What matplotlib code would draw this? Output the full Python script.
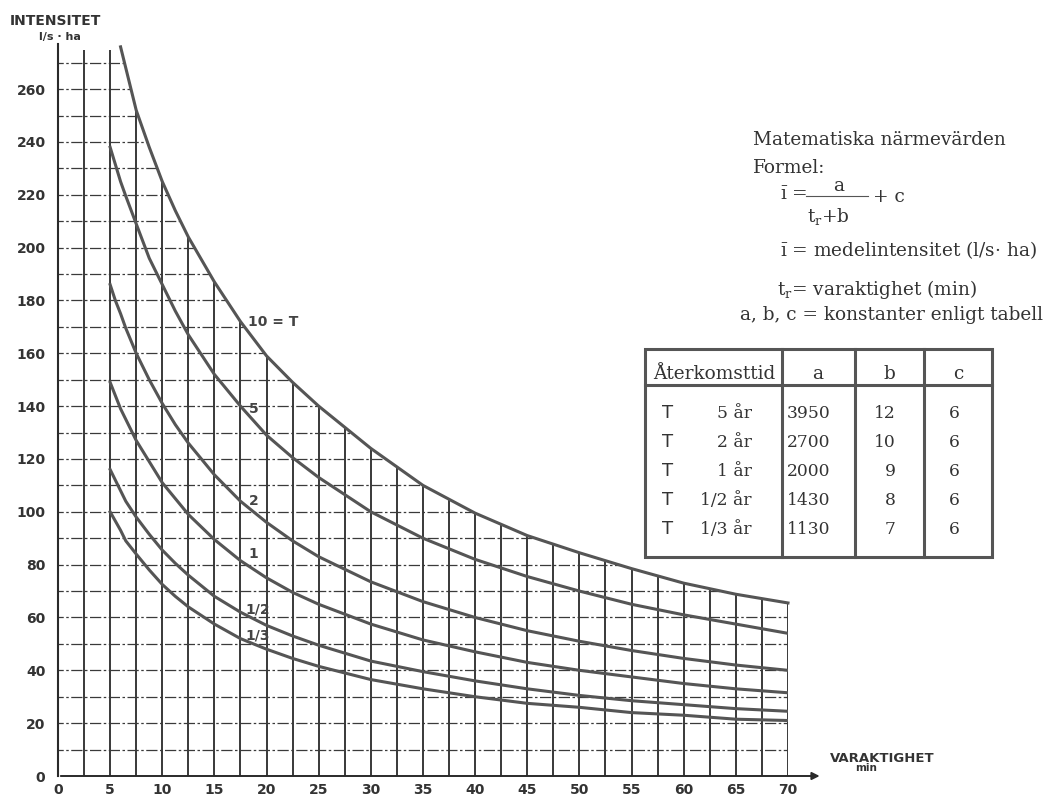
"""
Regnintensitet - varaktighetskurvor med formeltabell
"""

import matplotlib.pyplot as plt
from matplotlib.patches import Polygon, Rectangle

plt.rcParams["mathtext.fontset"] = "dejavuserif"

# avlästa värden ur diagrammet
t_10 = [6, 6.5, 7, 7.5, 8.75, 10, 11.25, 12.5, 15, 17.5, 20, 22.5, 25, 30, 35, 40, 45, 50, 55, 60, 65, 70]
i_10 = [276, 268, 260, 252, 238, 225, 214, 204, 187, 172, 159, 149, 140, 124, 110, 99.5, 91, 84.5,
        78.5, 73, 68.8, 65.5]

t_min = [5, 5.5, 6, 6.5, 7.5, 8.75, 10, 11.25, 12.5, 15, 17.5, 20, 22.5, 25, 30, 35, 40, 45, 50,
         55, 60, 65, 70]
i_5 = [238, 231.5, 225, 219.5, 209, 196, 186, 176, 167, 152, 140, 129, 120.5, 113, 100, 90, 82,
       75.5, 70, 65, 61, 57.5, 54]
i_2 = [186, 180, 175, 169.5, 160, 150, 141, 133, 126, 114, 104, 96, 89, 83, 73.5, 66, 60, 55, 51,
       47.5, 44.5, 42, 40]
i_1 = [149, 144, 139, 135, 127, 119, 111, 105, 99, 89.5, 81.5, 75, 69.5, 65, 57.5, 51.5, 47, 43,
       40, 37.5, 35, 33, 31.5]
i_half = [116, 112, 108, 104, 98, 91.5, 85.5, 80.5, 76, 68, 62, 57, 53, 49.5, 43.5, 39.5, 36, 33,
          30.5, 28.5, 27, 25.5, 24.5]
i_third = [100, 96.5, 93, 89, 84, 78, 72.5, 68, 64, 57.5, 52, 48, 44.5, 41.5, 36.5, 33, 30, 27.5,
           26, 24, 23, 21.5, 21]

curve_labels = ["10 = T", "5", "2", "1", "1/2", "1/3"]
label_pos = [(18.2, 172), (18.3, 139), (18.3, 104), (18.3, 84), (18.0, 63), (18.0, 53)]

x_ticks = list(range(0, 75, 5))
y_ticks = list(range(0, 280, 20))

# tabell
periods = ["5 år", "2 år", "1 år", "1/2 år", "1/3 år"]
const_a = ["3950", "2700", "2000", "1430", "1130"]
const_b = ["12", "10", "9", "8", "7"]
const_c = ["6", "6", "6", "6", "6"]

ink = "#2a2a2a"
curve_col = "#555555"
serif = "DejaVu Serif"

fig = plt.figure(figsize=(10.6, 7.95), dpi=100)
ax = fig.add_axes([58 / 1060, 19 / 795, 730 / 1060, 726.5 / 795])
ax.set_xlim(0, 70)
ax.set_ylim(0, 275)
for s in ax.spines.values():
    s.set_visible(False)

# rutnät bara under översta kurvan
clip = Polygon(
    [(-1, 276)] + list(zip(t_10, i_10)) + [(70.6, 65.5), (70.6, -3), (-1, -3)],
    closed=True, transform=ax.transData, facecolor="none", edgecolor="none",
)
ax.add_patch(clip)
vl = ax.vlines([x * 2.5 for x in range(1, 29)], -1.8, 280, colors=ink, lw=1.3)
hl = ax.hlines(range(10, 280, 10), -0.6, 70, colors="#3a3a3a", lw=0.9,
               linestyles=[(0, (9, 2, 2, 2))])
vl.set_clip_path(clip)
hl.set_clip_path(clip)

# axlar
ax.plot([0, 0], [0, 277], color=ink, lw=1.5, clip_on=False)
ax.annotate("", xy=(73.3, 0), xytext=(0, 0), annotation_clip=False,
            arrowprops=dict(arrowstyle="-|>", color=ink, lw=1.4, mutation_scale=11))

# kurvor
ax.plot(t_10, i_10, color=curve_col, lw=2.2, clip_on=False)
for yy in [i_5, i_2, i_1, i_half, i_third]:
    ax.plot(t_min, yy, color=curve_col, lw=2.2)

for lab, (lx, ly) in zip(curve_labels, label_pos):
    ax.text(lx, ly, lab, fontsize=10, fontweight="bold", color="#444444", va="center", ha="left")

ax.set_xticks(x_ticks)
ax.set_yticks(y_ticks)
ax.tick_params(length=0, labelsize=10, labelcolor="#333333")
ax.tick_params(axis="x", pad=5)
ax.tick_params(axis="y", pad=9)
for t in ax.get_xticklabels() + ax.get_yticklabels():
    t.set_fontweight("bold")

# överlägg i pixelkoordinater för texter och tabell
ov = fig.add_axes([0, 0, 1, 1])
ov.set_xlim(0, 1060)
ov.set_ylim(795, 0)
ov.axis("off")

ov.text(10, 25, "INTENSITET", fontsize=10, fontweight="bold", color="#333333", va="baseline")
ov.text(60, 40, "l/s · ha", fontsize=8, fontweight="bold", color="#333333", va="baseline", ha="center")
ov.text(830, 762, "VARAKTIGHET", fontsize=9.5, fontweight="bold", color="#333333", va="baseline")
ov.text(866, 771, "min", fontsize=7.5, fontweight="bold", color="#333333", va="baseline", ha="center")

tk = dict(family=serif, fontsize=13.3, color="#333333", va="baseline")
tn = dict(family=serif, fontsize=12.3, color="#333333", va="baseline")
ibar = r"$\bar{\mathrm{\imath}}$"
ov.text(753, 145, "Matematiska närmevärden", **tk)
ov.text(753, 173, "Formel:", **tk)
ov.text(780, 200, ibar + " =", **tk)
ov.text(839, 191, "a", ha="center", **tk)
ov.plot([806, 868], [196, 196], color="#555555", lw=0.8)
ov.text(873, 202, "+ c", **tk)
ov.text(807, 222, r"$\mathrm{t_r}$+b", **tk)
ov.text(780, 256, ibar + " = medelintensitet (l/s· ha)", **tk)
ov.text(777, 295, r"$\mathrm{t_r}$= varaktighet (min)", **tk)
ov.text(740, 320, "a, b, c = konstanter enligt tabell", **tk)

# tabell
ov.add_patch(Rectangle((645, 349), 347, 208, fill=False, edgecolor="#555555", lw=2.2))
for cx in [782, 855, 924]:
    ov.plot([cx, cx], [349, 557], color="#555555", lw=2.2)
ov.plot([645, 992], [385, 385], color="#555555", lw=2.2)

ov.text(653, 379, "Återkomsttid", **tk)
ov.text(818, 379, "a", ha="center", **tk)
ov.text(889, 379, "b", ha="center", **tk)
ov.text(958, 379, "c", ha="center", **tk)

for k in range(len(periods)):
    yb = 418 + 29 * k
    ov.text(668, yb, "T", fontsize=13, color="#333333", va="baseline", ha="center", family="DejaVu Sans")
    ov.text(752, yb, periods[k], ha="right", **tn)
    ov.text(787, yb, const_a[k], ha="left", **tn)
    ov.text(896, yb, const_b[k], ha="right", **tn)
    ov.text(954, yb, const_c[k], ha="center", **tn)

fig.savefig("out.png", dpi=100, facecolor="white")
